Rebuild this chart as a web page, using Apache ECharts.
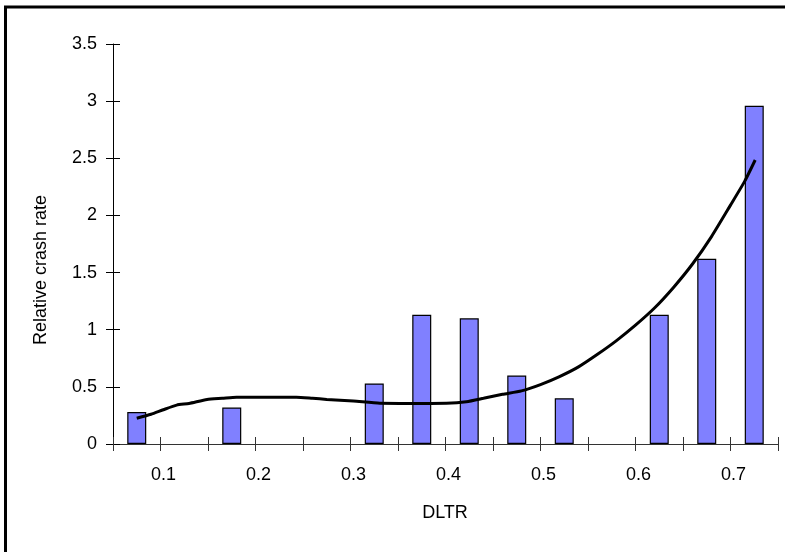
<!DOCTYPE html>
<html>
<head>
<meta charset="utf-8">
<script src="https://cdn.jsdelivr.net/npm/echarts@6/dist/echarts.min.js"></script>
<style>html,body{margin:0;padding:0;background:#fff}#c{width:785px;height:552px}</style>
</head>
<body>
<div id="c"></div>
<script>
// DLTR bin centers and relative crash rates (bars)
const barX = [0.075, 0.175, 0.325, 0.375, 0.425, 0.475, 0.525, 0.625, 0.675, 0.725];
const barY = [0.28, 0.32, 0.53, 1.13, 1.10, 0.60, 0.40, 1.13, 1.62, 2.96];
// fitted curve
const curveX = [0.075, 0.09, 0.103, 0.117, 0.13, 0.149, 0.165, 0.18, 0.21, 0.243, 0.26, 0.275, 0.303, 0.331, 0.352, 0.384, 0.401, 0.422, 0.44, 0.46, 0.48, 0.50, 0.52, 0.54, 0.56, 0.58, 0.60, 0.62, 0.64, 0.66, 0.68, 0.70, 0.715, 0.726];
const curveY = [0.225, 0.26, 0.30, 0.34, 0.355, 0.39, 0.40, 0.41, 0.41, 0.41, 0.40, 0.39, 0.376, 0.356, 0.355, 0.355, 0.356, 0.37, 0.40, 0.435, 0.465, 0.52, 0.59, 0.675, 0.785, 0.905, 1.04, 1.19, 1.37, 1.575, 1.815, 2.09, 2.30, 2.485];
const xTitle = 'DLTR';
const yTitle = 'Relative crash rate';

const font = 'Liberation Sans, Arial, sans-serif';
const chart = echarts.init(document.getElementById('c'), null, {renderer: 'canvas'});
const xFmt = v => Math.abs(v * 10 - Math.round(v * 10)) < 1e-6 ? (Math.round(v * 10) / 10).toFixed(1) : '';
const yFmt = v => String(Math.round(v * 10) / 10);
chart.setOption({
  animation: false,
  grid: {left: 113, right: 7, top: 44, bottom: 108},
  graphic: [
    {type: 'rect', shape: {x: 5.5, y: 7, width: 820, height: 600}, style: {fill: 'none', stroke: '#000', lineWidth: 3}, z: 100},
    {type: 'text', x: 41, y: 270, rotation: Math.PI / 2, style: {text: yTitle, font: '18px ' + font, fill: '#000', textAlign: 'center', textVerticalAlign: 'middle'}},
    {type: 'text', x: 445, y: 513, style: {text: xTitle, font: '18px ' + font, fill: '#000', textAlign: 'center', textVerticalAlign: 'middle'}}
  ],
  xAxis: [
    {type: 'value', min: 0.05, max: 0.75, interval: 0.05, splitLine: {show: false},
     axisLine: {onZero: false, lineStyle: {color: '#333', width: 1}},
     axisTick: {show: true, length: 7, lineStyle: {color: '#333'}},
     axisLabel: {formatter: xFmt, color: '#000', fontSize: 18, fontFamily: font, margin: 22, padding: [0, 0, 0, 6]}},
    {type: 'value', position: 'bottom', min: 0.05, max: 0.75, interval: 0.05, splitLine: {show: false},
     axisLine: {show: false, onZero: false}, axisLabel: {show: false},
     axisTick: {show: true, inside: true, length: 7, lineStyle: {color: '#333'}}}
  ],
  yAxis: [
    {type: 'value', min: 0, max: 3.5, interval: 0.5, splitLine: {show: false},
     axisLine: {show: true, lineStyle: {color: '#000'}},
     axisTick: {show: true, length: 7, lineStyle: {color: '#000'}},
     axisLabel: {formatter: yFmt, color: '#000', fontSize: 18, fontFamily: font, margin: 16}},
    {type: 'value', position: 'left', min: 0, max: 3.5, interval: 0.5, splitLine: {show: false},
     axisLine: {show: false}, axisLabel: {show: false},
     axisTick: {show: true, inside: true, length: 7, lineStyle: {color: '#000'}}}
  ],
  series: [
    {type: 'bar', xAxisIndex: 0, yAxisIndex: 0, barWidth: 19,
     data: barX.map((x, i) => [x, barY[i]]),
     itemStyle: {color: '#8080FF', borderColor: '#000', borderWidth: 1.2}},
    {type: 'line', xAxisIndex: 0, yAxisIndex: 0, smooth: 0.2, symbol: 'none',
     data: curveX.map((x, i) => [x, curveY[i]]),
     lineStyle: {color: '#000', width: 3}, z: 5}
  ]
});
</script>
</body>
</html>
